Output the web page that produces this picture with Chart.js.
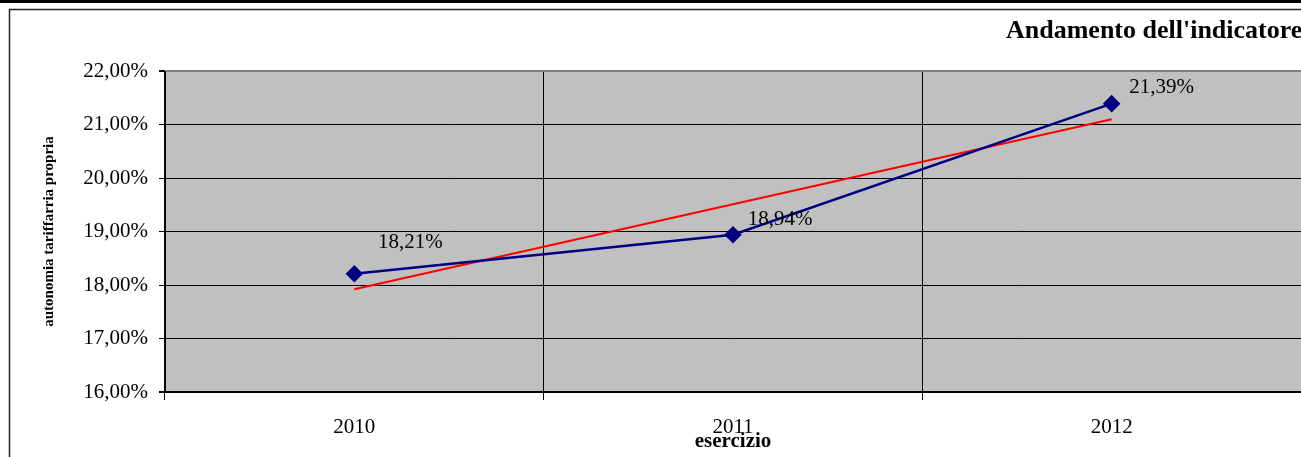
<!DOCTYPE html>
<html>
<head>
<meta charset="utf-8">
<script src="https://cdn.jsdelivr.net/npm/chart.js@4"></script>
<style>
  html, body { margin: 0; padding: 0; background: #fff; }
  #wrap { position: relative; width: 1301px; height: 457px; }
</style>
</head>
<body>
<div id="wrap"><canvas id="chart" width="1301" height="457"></canvas></div>
<script>
// dati del grafico
const anni = ['2010', '2011', '2012'];
const valori = [18.21, 18.94, 21.39];
// linea di tendenza
const tendenza = [17.92, 19.51, 21.10];
const tickY = [16, 17, 18, 19, 20, 21, 22];

const serif = "'Liberation Serif', 'DejaVu Serif', serif";
const fmt = v => v.toFixed(2).replace('.', ',') + '%';

// cornice e sfondo area grafico
const sfondo = {
    id: 'sfondo',
    beforeDraw(chart) {
        const { ctx, chartArea: a, width, height } = chart;
        ctx.save();
        ctx.fillStyle = '#fff';
        ctx.fillRect(0, 0, width, height);
        ctx.fillStyle = '#000';
        ctx.fillRect(0, 0, width, 3);
        ctx.strokeStyle = '#222';
        ctx.lineWidth = 1.5;
        ctx.beginPath();
        ctx.moveTo(9.5, height);
        ctx.lineTo(9.5, 9.5);
        ctx.lineTo(width, 9.5);
        ctx.stroke();
        ctx.fillStyle = '#C0C0C0';
        ctx.fillRect(a.left, a.top, a.right - a.left, a.bottom - a.top);
        // titolo
        ctx.fillStyle = '#000';
        ctx.font = "bold 26px " + serif;
        ctx.textBaseline = 'alphabetic';
        ctx.textAlign = 'left';
        ctx.fillText("Andamento dell'indicatore", 1006, 38);
        ctx.restore();
    }
};

// etichette dei valori
const etichette = {
    id: 'etichette',
    afterDatasetsDraw(chart, args, opts) {
        const { ctx } = chart;
        const meta = chart.getDatasetMeta(0);
        ctx.save();
        ctx.fillStyle = '#000';
        ctx.font = "21px " + serif;
        ctx.textAlign = 'center';
        ctx.textBaseline = 'middle';
        meta.data.forEach((pt, i) => {
            const [dx, dy] = opts.offsets[i];
            ctx.fillText(fmt(valori[i]), pt.x + dx, pt.y + dy);
        });
        ctx.restore();
    }
};

new Chart(document.getElementById('chart'), {
    type: 'line',
    data: {
        labels: anni,
        datasets: [{
            data: valori,
            borderColor: '#000080',
            borderWidth: 2.5,
            pointStyle: 'rectRot',
            pointRadius: 7,
            pointBackgroundColor: '#000080',
            pointBorderColor: '#000080',
            tension: 0
        }, {
            data: tendenza,
            borderColor: '#FF0000',
            borderWidth: 2,
            pointRadius: 0,
            tension: 0
        }]
    },
    options: {
        responsive: false,
        animation: false,
        layout: { autoPadding: false, padding: { left: 0, top: 71, right: 0, bottom: 0 } },
        plugins: {
            legend: { display: false },
            tooltip: { enabled: false },
            etichette: { offsets: [[56, -31], [47, -15], [50, -16]] }
        },
        scales: {
            x: {
                offset: true,
                grid: {
                    offset: true,
                    color: ctx => ctx.index === anni.length ? 'rgba(0,0,0,0)' : '#000',
                    tickColor: ctx => ctx.index === anni.length ? 'rgba(0,0,0,0)' : '#000',
                    lineWidth: 1,
                    tickLength: 8
                },
                border: { color: '#000', width: 2 },
                ticks: { color: '#000', font: { family: serif, size: 21 }, padding: 15 },
                title: {
                    display: true,
                    text: 'esercizio',
                    color: '#000',
                    font: { family: serif, size: 21, weight: 'bold' },
                    padding: { top: 0, bottom: 3 }
                },
                afterFit: s => { s.height = 65; }
            },
            y: {
                min: 16,
                max: 22,
                afterBuildTicks: s => { s.ticks = tickY.map(v => ({ value: v })); },
                grid: {
                    color: ctx => ctx.tick && ctx.tick.value === 22 ? '#808080' : '#000',
                    lineWidth: ctx => ctx.tick && (ctx.tick.value === 22 || ctx.tick.value === 16) ? 2 : 1,
                    tickColor: '#000',
                    tickLength: 6
                },
                border: { color: '#000', width: 1 },
                ticks: { color: '#000', font: { family: serif, size: 21 }, padding: 11, callback: v => fmt(v) },
                title: {
                    display: true,
                    text: 'autonomia tariffarria propria',
                    color: '#000',
                    font: { family: serif, size: 15, weight: 'bold' },
                    padding: { top: 40, bottom: 0 }
                },
                afterFit: s => { s.width = 165; }
            }
        }
    },
    plugins: [sfondo, etichette]
});
</script>
</body>
</html>
